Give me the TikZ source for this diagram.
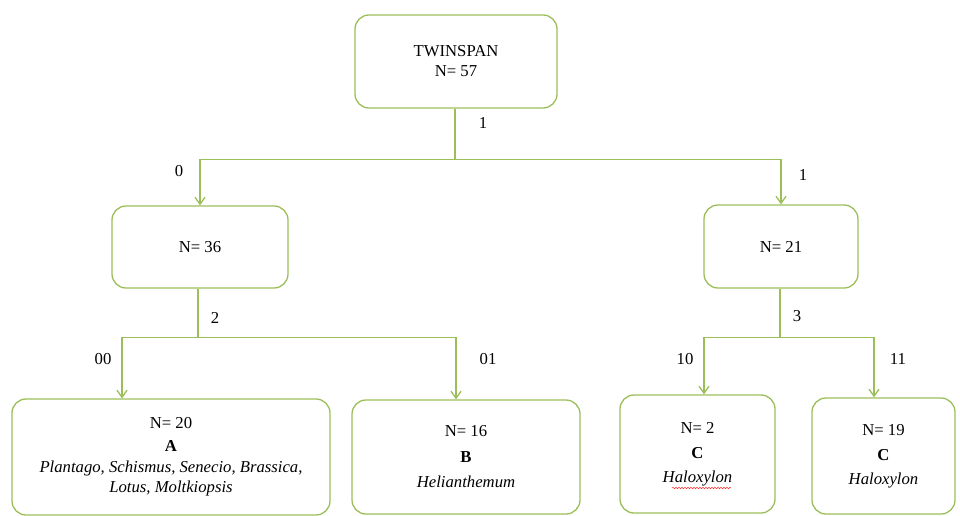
\documentclass[tikz,border=0pt]{standalone}
\usepackage{fontspec}
\setmainfont{Liberation Serif}
\usepackage{xcolor}
\usepackage{tikz}
\usetikzlibrary{arrows.meta,positioning,decorations.pathmorphing}
\definecolor{leaf}{RGB}{155,190,89}

\begin{document}
\begin{tikzpicture}[x=1pt, y=-1pt, >={Straight Barb[length=7pt,width=10pt]}]
    \tikzstyle{every node}=[font=\fontsize{16.7}{20}\selectfont]
    \tikzstyle{box}=[draw=leaf, line width=1.3pt, rounded corners=14pt, align=center, inner sep=0pt]
    \tikzstyle{link}=[draw=leaf, line width=1.3pt]
    \tikzstyle{cut}=[inner sep=1pt]

    \useasboundingbox (0,0) rectangle (960,516);

    \node[box, minimum width=202, minimum height=93] (twinspan) at (456,61.5) {TWINSPAN\\N= 57};
    \node[box, minimum width=176, minimum height=82] (grp0) at (200,247) {N= 36};
    \node[box, minimum width=154, minimum height=83] (grp1) at (781,246.5) {N= 21};
    \node[box, minimum width=318, minimum height=116] (grpA) at (171,457)
        {N= 20\\[3pt]\textbf{A}\\[1pt]\textit{Plantago, Schismus, Senecio, Brassica,}\\\textit{Lotus, Moltkiopsis}};
    \node[box, minimum width=228, minimum height=114] (grpB) at (466,457)
        {N= 16\\[6pt]\textbf{B}\\[5pt]\textit{Helianthemum}};
    \node[box, minimum width=155, minimum height=118] (grpC1) at (697.5,454)
        {N= 2\\[5pt]\textbf{C}\\[4pt]\textit{Haloxylon}};
    \node[box, minimum width=143, minimum height=116] (grpC2) at (883.5,456)
        {N= 19\\[5pt]\textbf{C}\\[4pt]\textit{Haloxylon}};

    % split points
    \path (twinspan.south) ++(-1,51) coordinate (split1);
    \path (grp0.south) ++(-2,49) coordinate (split2);
    \path (grp1.south) ++(-1,49) coordinate (split3);

    \draw[link] (twinspan.south -| split1) -- (split1);
    \draw[link,->] (split1) -| (grp0);
    \draw[link,->] (split1) -| (grp1);

    \draw[link] (grp0.south -| split2) -- (split2);
    \draw[link,->] (split2) -| ([xshift=-49pt]grpA.north);
    \draw[link,->] (split2) -| ([xshift=-10pt]grpB.north);

    \draw[link] (grp1.south -| split3) -- (split3);
    \draw[link,->] (split3) -| ([xshift=6.5pt]grpC1.north);
    \draw[link,->] (split3) -| ([xshift=-9.5pt]grpC2.north);

    % division labels
    \node[cut] (cut1)  at (483,123) {1};
    \node[cut] (cut0)  at (179,171) {0};
    \node[cut] (cut1b) at (803,175) {1};
    \node[cut] (cut2)  at (215,318) {2};
    \node[cut] (cut00) at (103,359) {00};
    \node[cut] (cut01) at (488,359) {01};
    \node[cut] (cut3)  at (797,316) {3};
    \node[cut] (cut10) at (685,359) {10};
    \node[cut] (cut11) at (898,359) {11};

    % spell-check mark
    \draw[red!80, line width=0.5pt, decorate, decoration={snake, amplitude=0.7pt, segment length=3pt}]
        (672,488) -- (731,488);

  \end{tikzpicture}
\end{document}
